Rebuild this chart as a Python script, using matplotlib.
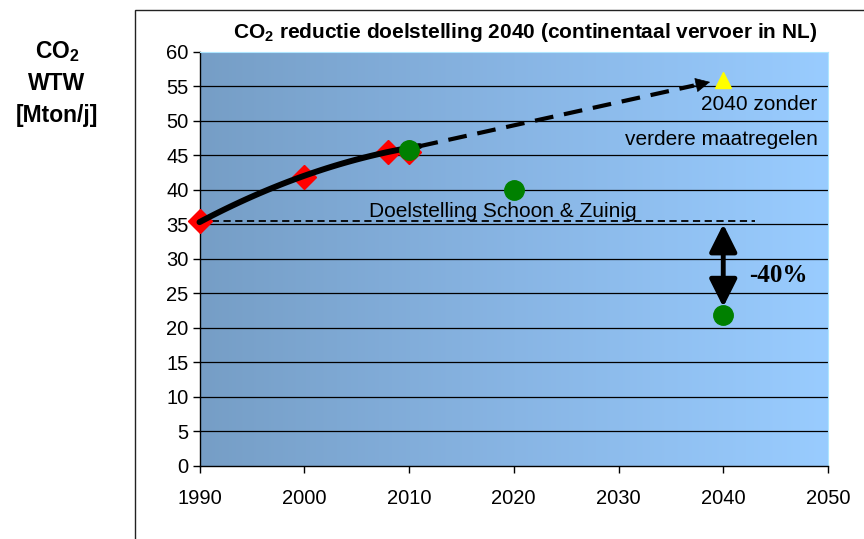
import numpy as np
import matplotlib
matplotlib.use("Agg")
import matplotlib.pyplot as plt
from matplotlib.colors import LinearSegmentedColormap
from matplotlib.patches import Rectangle

plt.rcParams['font.family'] = ['Liberation Sans', 'DejaVu Sans']
plt.rcParams['mathtext.fontset'] = 'custom'
plt.rcParams['mathtext.rm'] = 'Liberation Sans'
plt.rcParams['mathtext.bf'] = 'Liberation Sans:bold'

# data
hist_years = [1990, 2000, 2008, 2010]
hist_co2 = [35.4, 41.9, 45.4, 45.5]
goal_years = [2010, 2020, 2040]
goal_co2 = [45.8, 39.9, 21.8]
bau_year = [2040]
bau_co2 = [55.9]

trend_years = [1990, 2000, 2008, 2011]
trend_co2 = [35.3, 42.0, 45.5, 46.3]
arrow_tip = (2039.0, 55.7)
target_level = 35.4
target_end = 2043
reduction_from = 35.0
reduction_to = 23.0

x_ticks = [1990, 2000, 2010, 2020, 2030, 2040, 2050]
y_ticks = list(range(0, 61, 5))

fig = plt.figure(figsize=(8.64, 5.39), dpi=100)
ax = fig.add_axes([199.5 / 864, 1 - 465.7 / 539, 628.5 / 864, 414 / 539])

# outer chart frame
fig.patches.append(Rectangle((135 / 864, -0.1), 1.0, 1 - 10 / 539 + 0.1,
                             transform=fig.transFigure, fill=False,
                             edgecolor='#222222', lw=1.0))

# gradient plot area
cmap = LinearSegmentedColormap.from_list('bg', ['#769EC6', '#88B5E4', '#99CCFF'])
ax.imshow(np.linspace(0, 1, 256).reshape(1, -1), cmap=cmap, aspect='auto',
          extent=[1990, 2050, 0, 60], zorder=0)

ax.set_xlim(1990, 2050)
ax.set_ylim(0, 60)
ax.set_xticks(x_ticks)
ax.set_yticks(y_ticks)
for y in y_ticks[1:-1]:
    ax.axhline(y, color='black', lw=0.9, zorder=1)

for side in ['top', 'right']:
    ax.spines[side].set_color('#aee6ff')
ax.spines['left'].set_linewidth(1.0)
ax.spines['bottom'].set_linewidth(1.0)
ax.tick_params(axis='both', labelsize=14.5, length=5, width=1)
ax.tick_params(axis='x', pad=12)
ax.tick_params(axis='y', pad=3)

# smooth trend through historic values
coef = np.polyfit(trend_years, trend_co2, 2)
xs = np.linspace(trend_years[0], trend_years[-1], 100)
ax.plot(xs, np.polyval(coef, xs), color='black', lw=4.3, zorder=4,
        solid_capstyle='round', clip_on=False)

# dashed projection
x0, y0 = trend_years[-1], trend_co2[-1]
tx, ty = arrow_tip
ax.plot([x0, tx - 1.8], [y0, ty - (ty - y0) * 1.8 / (tx - x0)], color='black',
        lw=3, dashes=(4.5, 2.6), zorder=4)
ax.annotate('', xy=arrow_tip, xytext=(tx - 2.5, ty - (ty - y0) * 2.5 / (tx - x0)),
            arrowprops=dict(arrowstyle='-|>', color='black', lw=0.5,
                            mutation_scale=24), zorder=5)

# target line
ax.plot([1990, target_end], [target_level, target_level], color='black',
        lw=1.3, dashes=(4, 2.5), zorder=3)
ax.text(2006.2, 36.9, 'Doelstelling Schoon & Zuinig', fontsize=15,
        ha='left', va='center', zorder=3)

# markers
ax.plot(hist_years, hist_co2, 'D', color='red', ms=12, zorder=3, clip_on=False)
ax.plot(goal_years, goal_co2, 'o', color='green', ms=14, zorder=5, clip_on=False)
ax.plot(bau_year, bau_co2, '^', color='yellow', ms=11, zorder=5, clip_on=False)

# reduction arrow
ax.annotate('', xy=(2040, reduction_to), xytext=(2040, reduction_from),
            arrowprops=dict(arrowstyle='<|-|>,head_length=0.6,head_width=0.3',
                            color='black', lw=3.5, mutation_scale=28,
                            shrinkA=0, shrinkB=0), zorder=4)
ax.text(2042.5, 27.5, '-40%', fontsize=18, fontweight='bold',
        family='Liberation Serif', ha='left', va='center')

ax.text(2049, 52.3, '2040 zonder', fontsize=15, ha='right', va='center')
ax.text(2049, 47.3, 'verdere maatregelen', fontsize=15, ha='right', va='center')

fig.text(525 / 864, 1 - 33 / 539,
         r'CO$_\mathbf{2}$ reductie doelstelling 2040 (continentaal vervoer in NL)',
         fontsize=15, fontweight='bold', ha='center', va='center')
fig.text(57 / 864, 1 - 83 / 539, 'CO$_\\mathbf{2}$\nWTW\n[Mton/j]', fontsize=16.5,
         fontweight='bold', ha='center', va='center', linespacing=1.45)

fig.savefig('out.png', dpi=100)
